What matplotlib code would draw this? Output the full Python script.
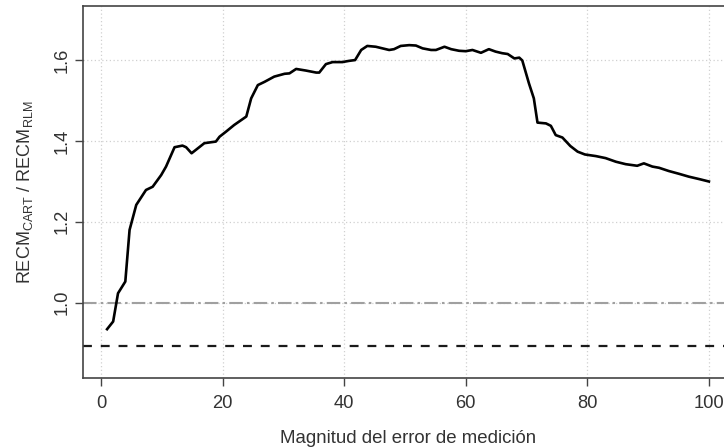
import matplotlib
matplotlib.use("Agg")
import matplotlib.pyplot as plt

plt.rcParams["font.family"] = ["Liberation Sans", "DejaVu Sans"]
plt.rcParams["mathtext.fontset"] = "custom"
plt.rcParams["mathtext.rm"] = "Liberation Sans"

# ratio of RMSE (CART / RLM) against measurement-error magnitude
magnitud = [1, 2, 2.8, 4, 4.7, 5.8, 7.4, 8.5, 9.9, 10.7, 12.1, 13.4, 14.0,
            14.9, 17.0, 18.9, 19.5, 20.6, 21.9, 23.9, 24.7, 25.8, 26.9, 28.5,
            30.2, 31.0, 32.1, 33.7, 35.4, 35.9, 37.0, 38.1, 39.7, 40.8, 41.8,
            42.8, 43.8, 45.2, 46.3, 47.4, 48.2, 49.3, 50.7, 51.8, 52.9, 54.3,
            55.1, 56.5, 57.6, 58.9, 60.0, 61.1, 62.5, 63.8, 64.9, 66.0, 66.9,
            68.0, 68.8, 69.3, 70.4, 71.2, 71.8, 73.2, 74.0, 74.8, 75.9, 77.2,
            78.4, 79.6, 81.4, 83.0, 84.7, 86.3, 88.2, 89.3, 90.7, 91.8, 93.4,
            95.1, 96.7, 98.4, 100]
ratio = [0.934, 0.953, 1.023, 1.052, 1.180, 1.242, 1.279, 1.287, 1.316, 1.337,
         1.385, 1.389, 1.385, 1.370, 1.395, 1.399, 1.411, 1.424, 1.440, 1.461,
         1.506, 1.539, 1.547, 1.560, 1.567, 1.568, 1.579, 1.575, 1.570, 1.570,
         1.591, 1.596, 1.596, 1.599, 1.601, 1.626, 1.636, 1.634, 1.630, 1.626,
         1.628, 1.636, 1.638, 1.637, 1.630, 1.626, 1.626, 1.634, 1.628, 1.624,
         1.623, 1.626, 1.619, 1.628, 1.622, 1.618, 1.616, 1.605, 1.607, 1.600,
         1.543, 1.506, 1.446, 1.444, 1.438, 1.415, 1.409, 1.388, 1.374, 1.367,
         1.363, 1.358, 1.349, 1.343, 1.339, 1.345, 1.337, 1.334, 1.326, 1.319,
         1.312, 1.306, 1.300]
ref_uno = 1.0
ref_base = 0.892

x_ticks = [0, 20, 40, 60, 80, 100]
y_ticks = [1.0, 1.2, 1.4, 1.6]

W, H = 724, 448
fig = plt.figure(figsize=(W / 100, H / 100), dpi=100)
# plot region runs past the right edge of the canvas
ax = fig.add_axes([83 / W, (H - 378) / H, 650 / W, 372 / H])

ax.set_xlim(-2.96, 103.96)
ax.set_ylim(0.813, 1.735)

for v in x_ticks:
    ax.axvline(v, color="#d0d0d0", lw=0.9, ls=(0, (1, 2)), zorder=0)
for v in y_ticks:
    ax.axhline(v, color="#d0d0d0", lw=0.9, ls=(0, (1, 2)), zorder=0)

ax.axhline(ref_uno, color="#a0a0a0", lw=1.5, ls=(0, (6.5, 2, 1.2, 2)), zorder=1)
ax.axhline(ref_base, color="#1a1a1a", lw=1.6, ls=(0, (4, 4)), zorder=1)
ax.plot(magnitud, ratio, color="black", lw=1.9, zorder=2,
        solid_joinstyle="round")

ax.set_xticks(x_ticks)
ax.set_yticks(y_ticks)
ax.set_yticklabels([f"{v:.1f}" for v in y_ticks], rotation=90, va="center")
ax.tick_params(axis="both", colors="#444444", labelcolor="#333333",
               labelsize=13.2, length=6, width=1.0, direction="out")
ax.tick_params(axis="x", pad=6)
ax.tick_params(axis="y", pad=3)

for side in ("left", "bottom", "top", "right"):
    ax.spines[side].set_color("#444444")
    ax.spines[side].set_linewidth(1.2)

ax.set_xlabel("Magnitud del error de medición", fontsize=13.4, color="#333333",
              labelpad=13)
ax.set_ylabel(r"RECM$_{\mathrm{CART}}$ / RECM$_{\mathrm{RLM}}$", fontsize=13,
              color="#333333", labelpad=13)

fig.savefig("out.png", dpi=100)
